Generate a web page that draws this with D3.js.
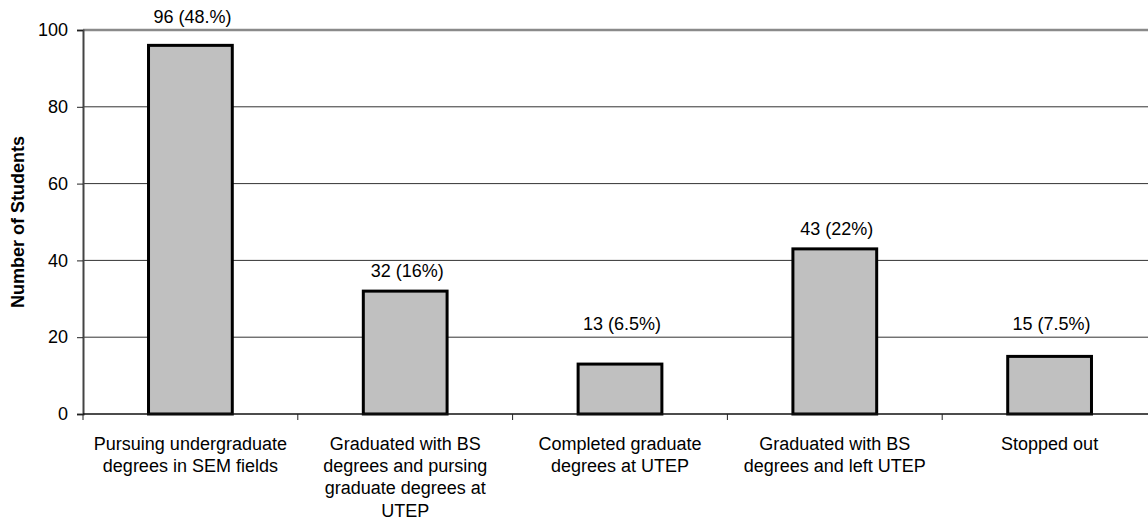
<!DOCTYPE html>
<html>
<head>
<meta charset="utf-8">
<script src="https://cdn.jsdelivr.net/npm/d3@7"></script>
<style>
  html, body { margin: 0; padding: 0; background: #fff; }
  svg { display: block; font-family: "Liberation Sans", Arial, Helvetica, sans-serif; }
</style>
</head>
<body>
<svg id="chart" width="1148" height="522"></svg>
<script>
// Student outcomes, counts per category
const categories = [
  ["Pursuing undergraduate", "degrees in SEM fields"],
  ["Graduated with BS", "degrees and pursing", "graduate degrees at", "UTEP"],
  ["Completed graduate", "degrees at UTEP"],
  ["Graduated with BS", "degrees and left UTEP"],
  ["Stopped out"]
];
const studentCounts = [96, 32, 13, 43, 15];
const valueLabels = ["96 (48.%)", "32 (16%)", "13 (6.5%)", "43 (22%)", "15 (7.5%)"];
const yTicks = [0, 20, 40, 60, 80, 100];
const yTitle = "Number of Students";

const svg = d3.select("#chart");
const plotLeft = 83, plotRight = 1157, plotTop = 30, plotBottom = 414;
const fontSize = 18;

const x = d3.scaleBand()
  .domain(d3.range(categories.length))
  .range([plotLeft, plotRight])
  .padding(0);

const y = d3.scaleLinear().domain([0, 100]).range([plotBottom, plotTop]);

const barW = x.bandwidth() * 0.39;

// horizontal gridlines (the 100 line doubles as the plot-area top edge)
svg.append("g")
  .selectAll("line")
  .data(yTicks.filter(t => t > 0))
  .join("line")
  .attr("x1", plotLeft).attr("x2", plotRight)
  .attr("y1", d => y(d)).attr("y2", d => y(d))
  .attr("stroke", d => d === 100 ? "#8a8a8a" : "#333")
  .attr("stroke-width", d => d === 100 ? 2.5 : 1);

// bars
svg.append("g")
  .selectAll("rect")
  .data(studentCounts)
  .join("rect")
  .attr("x", (d, i) => x(i) + (x.bandwidth() - barW) / 2)
  .attr("y", d => y(d))
  .attr("width", barW)
  .attr("height", d => y(0) - y(d))
  .attr("fill", "#c0c0c0")
  .attr("stroke", "#000")
  .attr("stroke-width", 3);

// y axis
const yAxis = svg.append("g")
  .attr("transform", `translate(${plotLeft},0)`)
  .call(d3.axisLeft(y).tickValues(yTicks).tickSize(6).tickPadding(9).tickFormat(d3.format("d")));
yAxis.select(".domain").attr("stroke", "#444").attr("stroke-width", 2);
yAxis.selectAll(".tick line").attr("stroke", "#222");
yAxis.selectAll(".tick text")
  .attr("font-size", fontSize)
  .attr("font-family", "Liberation Sans, Arial, sans-serif")
  .attr("fill", "#000");

// x axis baseline and category boundary ticks
svg.append("line")
  .attr("x1", plotLeft).attr("x2", plotRight)
  .attr("y1", y(0)).attr("y2", y(0))
  .attr("stroke", "#111").attr("stroke-width", 1.5);

const boundaries = d3.range(categories.length + 1).map(i => i < categories.length ? x(i) : plotRight);
svg.append("g")
  .selectAll("line")
  .data(boundaries)
  .join("line")
  .attr("x1", d => d).attr("x2", d => d)
  .attr("y1", y(0)).attr("y2", y(0) + 6)
  .attr("stroke", "#222").attr("stroke-width", 1);

// category labels, one tspan per line
const lineH = 22.4;
svg.append("g")
  .selectAll("text")
  .data(categories)
  .join("text")
  .attr("text-anchor", "middle")
  .attr("font-size", fontSize)
  .attr("fill", "#000")
  .each(function (lines, i) {
    d3.select(this).selectAll("tspan")
      .data(lines)
      .join("tspan")
      .attr("x", x(i) + x.bandwidth() / 2)
      .attr("y", (l, j) => plotBottom + 35.5 + j * lineH)
      .text(l => l);
  });

// value labels: sit above the bar, lifted clear of any gridline they would cross
const gridYs = yTicks.filter(t => t > 0).map(t => y(t));
function labelBaseline(v) {
  let b = y(v) - 14;
  const topEdge = b - 13;
  const hit = gridYs.find(g => g > topEdge - 1 && g < b + 2);
  if (hit !== undefined) b = hit - 7;
  return b;
}
svg.append("g")
  .selectAll("text")
  .data(studentCounts)
  .join("text")
  .attr("x", (d, i) => x(i) + x.bandwidth() / 2 + 2)
  .attr("y", d => labelBaseline(d))
  .attr("text-anchor", "middle")
  .attr("font-size", fontSize)
  .attr("fill", "#000")
  .text((d, i) => valueLabels[i]);

// y axis title
svg.append("text")
  .attr("transform", `translate(24,${(plotTop + plotBottom) / 2}) rotate(-90)`)
  .attr("text-anchor", "middle")
  .attr("font-size", fontSize)
  .attr("font-weight", "bold")
  .attr("fill", "#000")
  .text(yTitle);
</script>
</body>
</html>
